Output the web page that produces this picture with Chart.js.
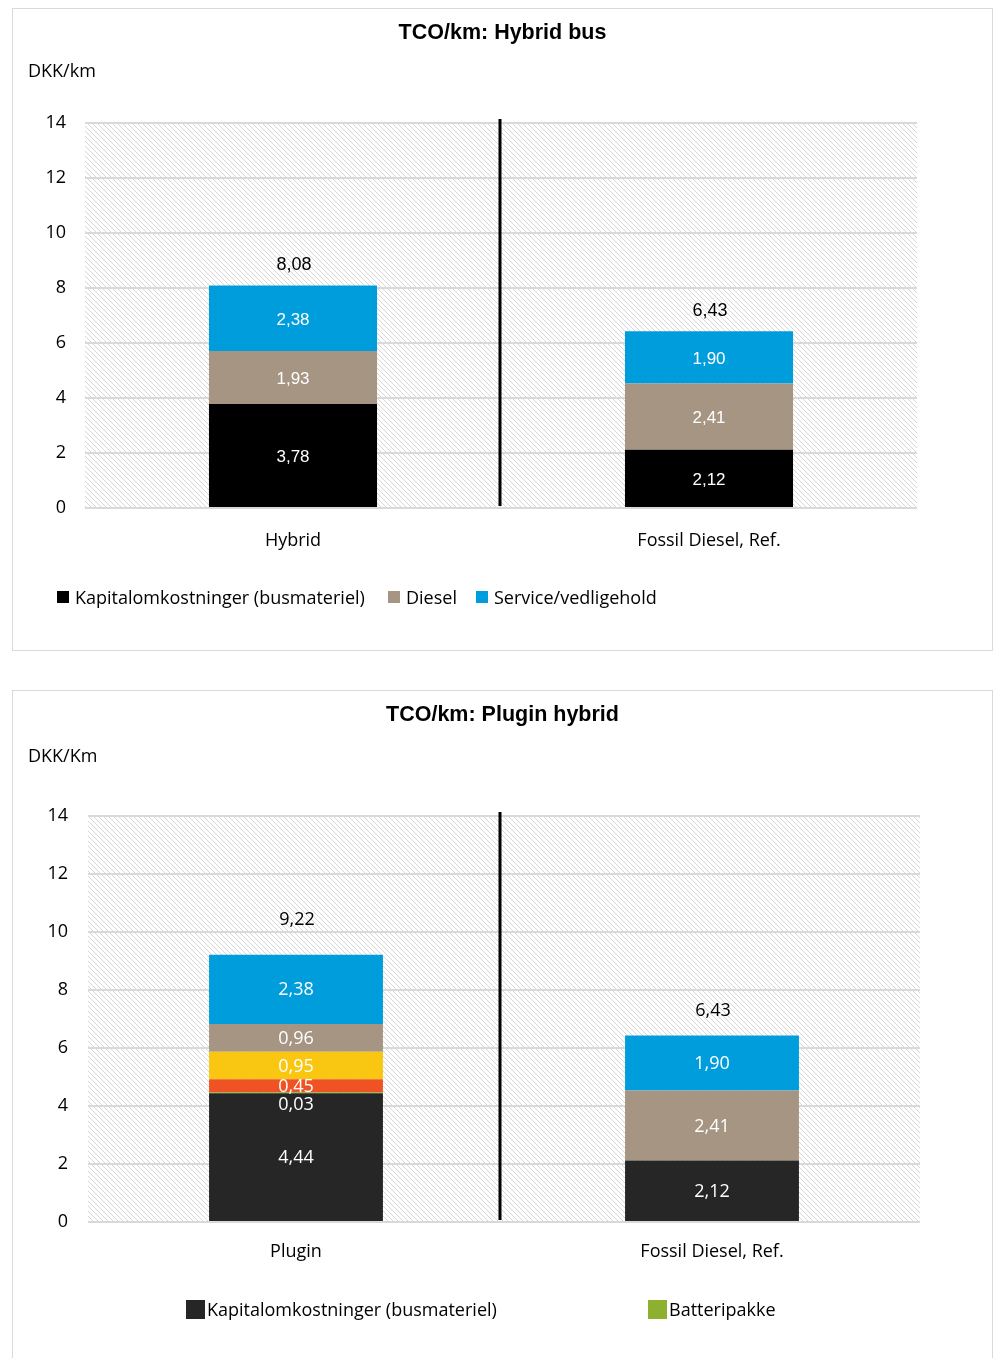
<!DOCTYPE html>
<html>
<head>
<meta charset="utf-8">
<script src="https://cdn.jsdelivr.net/npm/chart.js@4.4.0/dist/chart.umd.min.js"></script>
<style>
  html, body { margin: 0; padding: 0; background: #fff; overflow: hidden; }
  .box { position: absolute; left: 12px; width: 979px; border: 1px solid #d9d9d9; background: #fff; }
  #box1 { top: 8px; height: 641px; }
  #box2 { top: 690px; height: 718px; }
  .box canvas { position: absolute; left: 0; top: 0; }
  .legend { position: absolute; font-family: "Open Sans", sans-serif; font-size: 18px; color: #000;
            white-space: nowrap; line-height: 20px; }
  .legend .item { position: absolute; display: flex; align-items: center; }
  .legend .sw { display: inline-block; }
</style>
</head>
<body>
<div class="box" id="box1">
  <canvas id="chart1" width="979" height="641"></canvas>
  <div class="legend" id="legend1"></div>
</div>
<div class="box" id="box2">
  <canvas id="chart2" width="979" height="718"></canvas>
  <div class="legend" id="legend2"></div>
</div>
<script>
// --- data: TCO/km Hybrid bus ---
const hybridCategories = ['Hybrid', 'Fossil Diesel, Ref.'];
const hybridKapital = [3.78, 2.12];
const hybridDiesel = [1.93, 2.41];
const hybridService = [2.38, 1.90];
const hybridTotals = [8.08, 6.43];

// --- data: TCO/km Plugin hybrid ---
const pluginCategories = ['Plugin', 'Fossil Diesel, Ref.'];
const pluginKapital = [4.44, 2.12];
const pluginBatteri = [0.03, 0];
const pluginSerie3 = [0.45, 0];   // not named in the picture
const pluginSerie4 = [0.95, 0];   // not named in the picture
const pluginDiesel = [0.96, 2.41];
const pluginService = [2.38, 1.90];
const pluginTotals = [9.22, 6.43];

const yTickValues = [0, 2, 4, 6, 8, 10, 12, 14];

const fmt = v => v.toFixed(2).replace('.', ',');

// diagonal hatch for the plot area
function hatchPattern(ctx) {
  const t = document.createElement('canvas');
  t.width = 5; t.height = 5;
  const c = t.getContext('2d');
  c.fillStyle = '#fff';
  c.fillRect(0, 0, 5, 5);
  c.strokeStyle = '#d6d6d6';
  c.lineWidth = 1;
  c.beginPath();
  c.moveTo(-1, -1); c.lineTo(6, 6);
  c.moveTo(-1, 4); c.lineTo(1, 6);
  c.moveTo(4, -1); c.lineTo(6, 1);
  c.stroke();
  return ctx.createPattern(t, 'repeat');
}

const hatchBg = {
  id: 'hatchBg',
  beforeDraw(chart) {
    const {ctx, chartArea: a} = chart;
    ctx.save();
    ctx.fillStyle = hatchPattern(ctx);
    ctx.fillRect(a.left, a.top, a.right - a.left, a.bottom - a.top);
    ctx.restore();
  }
};

const divider = {
  id: 'divider',
  afterDatasetsDraw(chart, args, o) {
    const {ctx, chartArea: a} = chart;
    const xs = chart.scales.x;
    const x = (xs.getPixelForValue(0) + xs.getPixelForValue(1)) / 2 + (o.shift || 0);
    ctx.save();
    ctx.strokeStyle = '#000';
    ctx.lineWidth = 3;
    ctx.beginPath();
    ctx.moveTo(x, a.top - 4);
    ctx.lineTo(x, a.bottom - 2);
    ctx.stroke();
    ctx.restore();
  }
};

const barLabels = {
  id: 'barLabels',
  afterDatasetsDraw(chart, args, o) {
    const ctx = chart.ctx;
    ctx.save();
    ctx.textAlign = 'center';
    ctx.textBaseline = 'middle';
    const tops = [];
    chart.data.datasets.forEach((ds, di) => {
      const meta = chart.getDatasetMeta(di);
      meta.data.forEach((bar, i) => {
        const v = ds.data[i];
        if (!v) return;
        tops[i] = tops[i] === undefined ? bar.y : Math.min(tops[i], bar.y);
        let y = (bar.y + bar.base) / 2 + o.shift;
        if (Math.abs(bar.base - bar.y) < 4) y += o.thinShift;
        ctx.font = o.font;
        ctx.fillStyle = '#fff';
        ctx.fillText(fmt(v), bar.x, y);
      });
    });
    const meta0 = chart.getDatasetMeta(0);
    ctx.font = o.totalFont;
    ctx.fillStyle = '#000';
    o.totals.forEach((t, i) => {
      ctx.fillText(fmt(t), meta0.data[i].x + 1, tops[i] - o.totalGap[i]);
    });
    ctx.restore();
  }
};

function makeChart(id, cfg) {
  return new Chart(document.getElementById(id).getContext('2d'), {
    type: 'bar',
    data: { labels: cfg.categories, datasets: cfg.datasets },
    plugins: [hatchBg, divider, barLabels],
    options: {
      responsive: false,
      animation: false,
      devicePixelRatio: 1,
      layout: { padding: { left: 15, right: 15, top: 0, bottom: cfg.padBottom } },
      datasets: { bar: { barPercentage: cfg.barPct, categoryPercentage: 1, borderWidth: 0 } },
      scales: {
        x: {
          stacked: true,
          grid: { display: false },
          border: { display: false },
          ticks: { color: '#000', padding: cfg.xPad, font: { family: 'Open Sans', size: 18 } },
          afterFit(a) { a.height = 60; }
        },
        y: {
          stacked: true,
          min: 0, max: 14,
          afterBuildTicks(a) { a.ticks = yTickValues.map(v => ({ value: v })); },
          grid: { color: '#d9d9d9', lineWidth: 2, drawTicks: false },
          border: { display: false },
          ticks: { color: '#000', padding: cfg.yPad, font: { family: 'Open Sans', size: 18 } },
          afterFit(a) { a.width = cfg.yWidth; }
        },
        yR: {
          position: 'right',
          min: 0, max: 14,
          grid: { display: false },
          border: { display: false },
          ticks: { display: false },
          afterFit(a) { a.width = cfg.rWidth; }
        }
      },
      plugins: {
        legend: { display: false },
        tooltip: { enabled: false },
        title: {
          display: true, text: cfg.title, color: '#000',
          font: { family: 'Liberation Sans', size: 21.5, weight: 'bold' },
          padding: { top: 11, bottom: 0 }
        },
        subtitle: {
          display: true, text: cfg.unit, align: 'start', color: '#000',
          font: { family: 'Open Sans', size: 18 },
          padding: cfg.subPad
        },
        divider: { shift: cfg.divShift },
        barLabels: cfg.labels
      }
    }
  });
}

function makeLegend(id, items) {
  const el = document.getElementById(id);
  items.forEach(it => {
    const d = document.createElement('div');
    d.className = 'item';
    d.style.left = it.left + 'px';
    d.style.top = it.top + 'px';
    const sw = document.createElement('span');
    sw.className = 'sw';
    sw.style.width = it.size + 'px';
    sw.style.height = it.size + 'px';
    sw.style.background = it.color;
    sw.style.marginRight = it.gap + 'px';
    const tx = document.createElement('span');
    tx.textContent = it.label;
    d.appendChild(sw);
    d.appendChild(tx);
    el.appendChild(d);
  });
}

const c1 = { kap: '#000000', diesel: '#a69583', service: '#009ddc' };
const ds1 = [
  { label: 'Kapitalomkostninger (busmateriel)', data: hybridKapital, backgroundColor: c1.kap },
  { label: 'Diesel', data: hybridDiesel, backgroundColor: c1.diesel },
  { label: 'Service/vedligehold', data: hybridService, backgroundColor: c1.service }
];
makeChart('chart1', {
  categories: hybridCategories,
  datasets: ds1,
  title: 'TCO/km: Hybrid bus',
  unit: 'DKK/km',
  subPad: { top: 15.3, bottom: 40.2 },
  padBottom: 641 - 499 - 60,
  barPct: 0.404,
  xPad: 14, yPad: 19, yWidth: 57, rWidth: 60,
  divShift: -1,
  labels: { font: '17px "Liberation Sans"', totalFont: '18px "Liberation Sans"', thinShift: 0, shift: 2,
            totals: hybridTotals, totalGap: [20, 20] }
});

const c2 = { kap: '#262626', batt: '#8db02e', s3: '#f05323', s4: '#f9c711', diesel: '#a69583', service: '#009ddc' };
const ds2 = [
  { label: 'Kapitalomkostninger (busmateriel)', data: pluginKapital, backgroundColor: c2.kap },
  { label: 'Batteripakke', data: pluginBatteri, backgroundColor: c2.batt },
  { label: 'Serie 3', data: pluginSerie3, backgroundColor: c2.s3 },
  { label: 'Serie 4', data: pluginSerie4, backgroundColor: c2.s4 },
  { label: 'Diesel', data: pluginDiesel, backgroundColor: c2.diesel },
  { label: 'Service/vedligehold', data: pluginService, backgroundColor: c2.service }
];
makeChart('chart2', {
  categories: pluginCategories,
  datasets: ds2,
  title: 'TCO/km: Plugin hybrid',
  unit: 'DKK/Km',
  subPad: { top: 18.3, bottom: 48.2 },
  padBottom: 718 - 531 - 60,
  barPct: 0.418,
  xPad: 11, yPad: 20, yWidth: 60, rWidth: 57,
  divShift: -4,
  labels: { font: '18px "Open Sans"', totalFont: '18px "Open Sans"', thinShift: 11, shift: 1,
            totals: pluginTotals, totalGap: [35, 25] }
});

makeLegend('legend1', [
  { label: ds1[0].label, color: c1.kap, left: 44, top: 578, size: 12, gap: 6 },
  { label: ds1[1].label, color: c1.diesel, left: 375, top: 578, size: 12, gap: 6 },
  { label: ds1[2].label, color: c1.service, left: 463, top: 578, size: 12, gap: 6 }
]);
makeLegend('legend2', [
  { label: ds2[0].label, color: c2.kap, left: 173, top: 608, size: 19, gap: 2 },
  { label: ds2[1].label, color: c2.batt, left: 635, top: 608, size: 19, gap: 2 }
]);
</script>
</body>
</html>
